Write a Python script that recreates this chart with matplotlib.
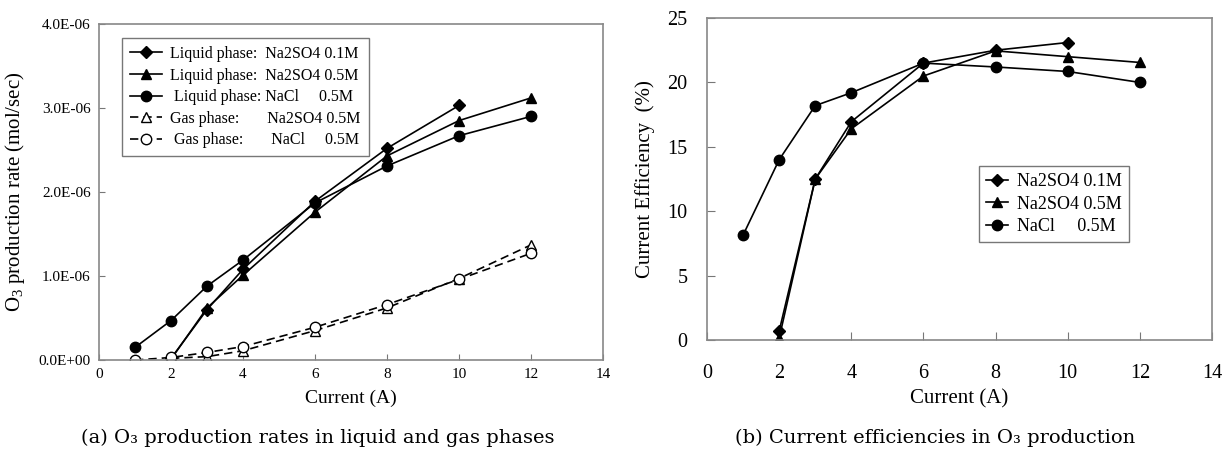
import numpy as np
import matplotlib
matplotlib.use('Agg')
import matplotlib.pyplot as plt
from matplotlib.ticker import FuncFormatter

plt.rcParams['font.family'] = ['Liberation Serif', 'DejaVu Serif']
plt.rcParams['mathtext.fontset'] = 'custom'
plt.rcParams['mathtext.rm'] = 'Liberation Serif'

# ---- (a) O3 production rate, 1e-6 mol/sec ----
x_nacl = [1, 2, 3, 4, 6, 8, 10, 12]
x_na01 = [2, 3, 4, 6, 8, 10]
x_na05 = [2, 3, 4, 6, 8, 10, 12]

liq_na01 = [0.02, 0.60, 1.08, 1.89, 2.52, 3.03]
liq_na05 = [0.01, 0.62, 1.01, 1.76, 2.43, 2.85, 3.12]
liq_nacl = [0.15, 0.47, 0.88, 1.19, 1.87, 2.31, 2.67, 2.90]
gas_na05 = [0.02, 0.04, 0.11, 0.35, 0.62, 0.97, 1.37]
gas_nacl = [0.00, 0.03, 0.09, 0.16, 0.39, 0.66, 0.96, 1.27]

labels_a = ['Liquid phase:  Na2SO4 0.1M',
            'Liquid phase:  Na2SO4 0.5M',
            ' Liquid phase: NaCl     0.5M',
            'Gas phase:       Na2SO4 0.5M',
            ' Gas phase:       NaCl     0.5M']

# ---- (b) current efficiency, % ----
eff_na01 = [0.7, 12.5, 16.95, 21.5, 22.5, 23.1]
eff_na05 = [0.15, 12.5, 16.4, 20.5, 22.45, 22.0, 21.55]
eff_nacl = [8.15, 14.0, 18.2, 19.2, 21.5, 21.2, 20.85, 20.0]
labels_b = ['Na2SO4 0.1M', 'Na2SO4 0.5M', 'NaCl     0.5M']

captions = ['(a) O₃ production rates in liquid and gas phases',
            '(b) Current efficiencies in O₃ production']

fig = plt.figure(figsize=(12.26, 4.53), dpi=100)
ax1 = fig.add_axes([0.0808, 0.2053, 0.411, 0.7417])
ax2 = fig.add_axes([0.5767, 0.2494, 0.4119, 0.7108])

ms = 7.5
kw = dict(color='black', lw=1.2)
scale = 1e-6
ax1.plot(x_na01, np.array(liq_na01) * scale, marker='D', ms=ms - 1.5, label=labels_a[0], **kw)
ax1.plot(x_na05, np.array(liq_na05) * scale, marker='^', ms=ms, label=labels_a[1], **kw)
ax1.plot(x_nacl, np.array(liq_nacl) * scale, marker='o', ms=ms, label=labels_a[2], **kw)
ax1.plot(x_na05, np.array(gas_na05) * scale, marker='^', ms=ms, mfc='white', ls='--', dashes=(5, 3),
         label=labels_a[3], **kw)
ax1.plot(x_nacl, np.array(gas_nacl) * scale, marker='o', ms=ms, mfc='white', ls='--', dashes=(5, 3),
         label=labels_a[4], **kw)

ax1.set_xlim(0, 14)
ax1.set_ylim(0, 4e-6)
ax1.set_xticks(range(0, 15, 2))
ax1.set_yticks(np.arange(0, 4.01e-6, 1e-6))
ax1.yaxis.set_major_formatter(FuncFormatter(lambda v, p: f'{v:.1E}'))
ax1.set_xlabel('Current (A)', fontsize=14, labelpad=6)
ax1.set_ylabel('O$_3$ production rate (mol/sec)', fontsize=15, labelpad=8)
ax1.tick_params(direction='in', labelsize=11, length=4, color='#777777', pad=6)
ax1.legend(loc='upper left', bbox_to_anchor=(0.03, 0.982), fontsize=11.5, frameon=True,
           fancybox=False, edgecolor='#555555', handlelength=2.0, labelspacing=0.35,
           borderpad=0.5, handletextpad=0.5)

ax2.plot(x_na01, eff_na01, marker='D', ms=ms - 1.5, label=labels_b[0], **kw)
ax2.plot(x_na05, eff_na05, marker='^', ms=ms, label=labels_b[1], **kw)
ax2.plot(x_nacl, eff_nacl, marker='o', ms=ms, label=labels_b[2], **kw)
ax2.set_xlim(0, 14)
ax2.set_ylim(0, 25)
ax2.set_xticks(range(0, 15, 2))
ax2.set_yticks(range(0, 26, 5))
ax2.set_xlabel('Current (A)', fontsize=15, labelpad=5)
ax2.set_ylabel('Current Efficiency  (%)', fontsize=15, labelpad=9)
ax2.tick_params(direction='in', labelsize=14.5, length=6, color='#777777')
ax2.tick_params(axis='y', pad=14)
ax2.tick_params(axis='x', pad=17)
ax2.legend(loc='upper left', bbox_to_anchor=(0.521, 0.568), fontsize=13, frameon=True,
           fancybox=False, edgecolor='#555555', handlelength=1.2, labelspacing=0.3,
           borderpad=0.4, handletextpad=0.5)

for ax in (ax1, ax2):
    for s in ax.spines.values():
        s.set_color('#888888')
        s.set_linewidth(1.2)

fig.text(0.259, 0.033, captions[0], ha='center', va='center', fontsize=14, family='DejaVu Serif')
fig.text(0.763, 0.033, captions[1], ha='center', va='center', fontsize=14, family='DejaVu Serif')

fig.savefig('out.png', dpi=100)
